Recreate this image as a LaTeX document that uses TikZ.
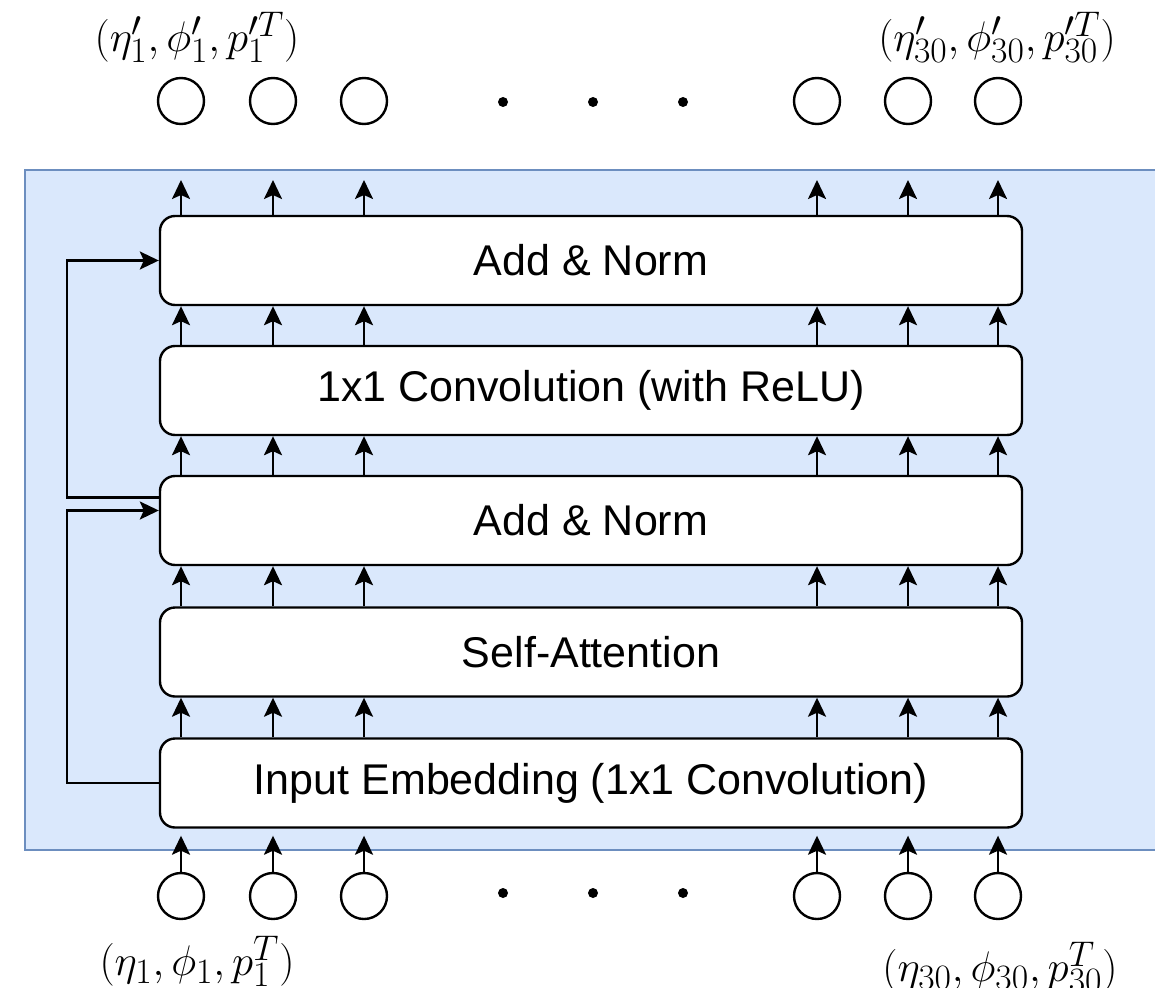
\documentclass[tikz,border=0pt]{standalone}
\usepackage{graphicx}
\usepackage{fontspec}
\newfontfamily\arialf{Liberation Sans}
\usetikzlibrary{arrows.meta,calc}
\definecolor{bgfill}{HTML}{DAE8FC}
\definecolor{bgline}{HTML}{6C8EBF}
\newcommand{\biglbl}[1]{\scalebox{1.72}{$#1$}}
\begin{document}
\begin{tikzpicture}[x=1pt,y=-1pt,
 layer/.style={draw, line width=2.4pt, fill=white, rounded corners=15pt, minimum width=862pt, minimum height=89pt, inner sep=0pt, font=\arialf\fontsize{43}{50}\selectfont},
 tok/.style={circle, draw, line width=2.4pt, minimum size=46pt, inner sep=0pt},
 dotn/.style={circle, fill=black, minimum size=10pt, inner sep=0pt},
 flow/.style={line width=2.4pt, -{Stealth[length=19pt,width=18pt,inset=4pt]}},
 lbl/.style={font=\fontsize{24.88}{30}\selectfont, inner sep=0pt}]
\clip (0,0) rectangle (1155,987);
\fill[white] (0,0) rectangle (1155,987);
\draw[bgline, line width=2pt, fill=bgfill] (25,170) rectangle (1175,850);

\node[layer] (emb) at (591,783) {Input Embedding (1x1 Convolution)};
\node[layer] (sa) at (591,652) {Self-Attention};
\node[layer] (an1) at (591,520.5) {Add \& Norm};
\node[layer] (conv) at (591,390.5) {1x1 Convolution (with ReLU)};
\node[layer] (an2) at (591,260.5) {Add \& Norm};

\foreach \x [count=\i] in {181,273,364,817,908,998} {
 \node[tok] (in\i) at (\x,896) {};
 \node[tok] (out\i) at (\x,101) {};
 \coordinate (top\i) at (\x,180);
 \coordinate (bot\i) at ($(in\i |- emb.south)+(0,7)$);
 \draw[flow] (in\i.north) -- (bot\i);
 \draw[flow] (in\i |- emb.north) -- (in\i |- sa.south);
 \draw[flow] (in\i |- sa.north) -- (in\i |- an1.south);
 \draw[flow] (in\i |- an1.north) -- (in\i |- conv.south);
 \draw[flow] (in\i |- conv.north) -- (in\i |- an2.south);
 \draw[flow] (in\i |- an2.north) -- (top\i);
}

\foreach \x [count=\i] in {503,593,683} {
 \node[dotn] (dt\i) at (\x,102) {};
 \node[dotn] (db\i) at (\x,893) {};
}

\draw[flow] (emb.west) -- ++(-92,0) |- ($(an1.west)+(0,-10)$);
\draw[flow] ($(an1.west)+(0,-23)$) -- ++(-92,0) |- (an2.west);

\node[lbl] (lo1) at (197,37) {\biglbl{(\eta'_1,\phi'_1,p_1^{\prime T})}};
\node[lbl] (lo30) at (997,37) {\biglbl{(\eta'_{30},\phi'_{30},p_{30}^{\prime T})}};
\node[lbl] (li1) at (197,961) {\biglbl{(\eta_1,\phi_1,p_1^{T})}};
\node[lbl] (li30) at (1000,967) {\biglbl{(\eta_{30},\phi_{30},p_{30}^{T})}};
\end{tikzpicture}
\end{document}
